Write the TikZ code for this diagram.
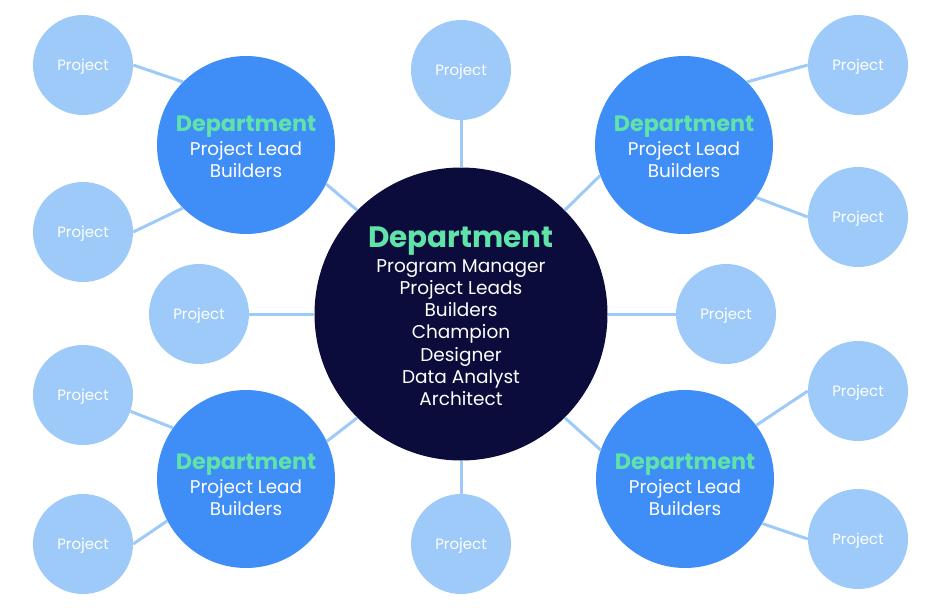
\documentclass[tikz,border=0pt]{standalone}
\usepackage{fontspec}
\setmainfont{Poppins}
\usepackage{tikz}

\definecolor{navy}{HTML}{0B0C3B}
\definecolor{deptblue}{HTML}{3F8DF6}
\definecolor{projblue}{HTML}{9DCAF8}
\definecolor{deptgreen}{HTML}{5FE3A9}

\begin{document}
\begin{tikzpicture}[x=1pt,y=1pt,yscale=-1,xscale=1,
  hub/.style={circle,fill=navy,minimum size=293pt,inner sep=0pt},
  hubtext/.style={text=white,align=center,inner sep=0pt,font=\fontsize{18.5}{22.2}\selectfont},
  dept/.style={circle,fill=deptblue,minimum size=178pt,inner sep=0pt},
  depttext/.style={text=white,align=center,inner sep=0pt,font=\fontsize{18.4}{22}\selectfont},
  proj/.style={circle,fill=projblue,minimum size=100pt,inner sep=0pt,text=white,text depth=0pt,font=\fontsize{15}{18}\selectfont},
  link/.style={draw=projblue,line width=3pt}]
\useasboundingbox (0,0) rectangle (930,608);
% hub
\node [hub] (hub) at (461,314) {};
\node [hubtext] (hubt) at (461,316) {{\fontsize{29.5}{32}\selectfont\bfseries\color{deptgreen}Department}\\[3pt]Program Manager\\Project Leads\\Builders\\Champion\\Designer\\Data Analyst\\Architect};
% departments
\node [dept] (dep1) at (246,145) {};
\node [dept] (dep2) at (684,145) {};
\node [dept] (dep3) at (246,479) {};
\node [dept] (dep4) at (685,479) {};
\node [depttext] (dept1) at (246,147) {{\fontsize{22.3}{24}\selectfont\bfseries\color{deptgreen}Department}\\[2pt]Project Lead\\Builders};
\node [depttext] (dept2) at (684,147) {{\fontsize{22.3}{24}\selectfont\bfseries\color{deptgreen}Department}\\[2pt]Project Lead\\Builders};
\node [depttext] (dept3) at (246,485) {{\fontsize{22.3}{24}\selectfont\bfseries\color{deptgreen}Department}\\[2pt]Project Lead\\Builders};
\node [depttext] (dept4) at (685,485) {{\fontsize{22.3}{24}\selectfont\bfseries\color{deptgreen}Department}\\[2pt]Project Lead\\Builders};
% projects
\node [proj] (pr1) at (83,65) {Project};
\node [proj] (pr2) at (83,232) {Project};
\node [proj] (pr3) at (461,70) {Project};
\node [proj] (pr4) at (858,65) {Project};
\node [proj] (pr5) at (858,217) {Project};
\node [proj] (pr6) at (199,314) {Project};
\node [proj] (pr7) at (726,314) {Project};
\node [proj] (pr8) at (83,395) {Project};
\node [proj] (pr9) at (83,544) {Project};
\node [proj] (pr10) at (461,544) {Project};
\node [proj] (pr11) at (858,391) {Project};
\node [proj] (pr12) at (858,539) {Project};
% links
\draw [link] (dep1.334) -- (hub.135);
\draw [link] (dep2.200) -- (hub.45);
\draw [link] (dep3.25) -- (hub.225);
\draw [link] (dep4.161) -- (hub.315);
\draw [link] (pr3) -- (hub);
\draw [link] (pr10) -- (hub);
\draw [link] (pr6) -- (hub);
\draw [link] (pr7) -- (hub);
\draw [link] (pr1.east) -- (dep1.135);
\draw [link] (pr2.east) -- (dep1.225);
\draw [link] (pr4.west) -- (dep2.45);
\draw [link] (pr5.west) -- (dep2.324);
\draw [link] (pr8.341) -- (dep3.145);
\draw [link] (pr9.east) -- (dep3.208);
\draw [link] (pr11.west) -- (dep4.37);
\draw [link] (pr12.west) -- (dep4.330);
\end{tikzpicture}
\end{document}
